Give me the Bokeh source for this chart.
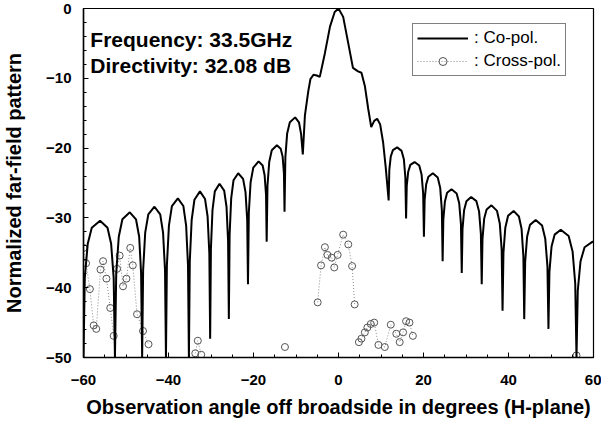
import numpy as np
from bokeh.plotting import figure
from bokeh.models import Range1d, Label, Legend, LegendItem, FixedTicker
from bokeh.embed import file_html
from bokeh.resources import INLINE

# Co-polar far-field pattern, H-plane (angle in degrees, level in dB)
copol_angle = [
    -60.0,
    -59.7, -59.0, -58.05, -56.1, -54.35, -53.5, -52.9, -52.6,
    -52.3, -51.7, -50.85, -49.1, -47.65, -46.9, -46.45, -46.2,
    -45.97, -45.48, -44.75, -43.3, -41.95, -41.28, -40.82, -40.6,
    -40.38, -39.9, -39.2, -37.8, -36.5, -35.85, -35.41, -35.2,
    -34.99, -34.55, -33.9, -32.6, -31.4, -30.8, -30.39, -30.2,
    -30.02, -29.65, -29.1, -28.0, -26.9, -26.35, -25.98, -25.8,
    -25.62, -25.25, -24.7, -23.6, -22.45, -21.88, -21.48, -21.3,
    -21.1, -20.68, -20.05, -18.8, -17.85, -17.38, -17.05, -16.9,
    -16.71, -16.3, -15.7, -14.5, -13.6, -13.15, -12.84, -12.7,
    -12.5, -12.08, -11.45, -10.2, -9.3, -8.8, -8.4,
    -7.9, -7.1, -6.6, -5.9, -5.1, -4.4, -3.2, -2.0, -0.9, 0.0,
    1.1, 2.3, 3.4, 4.6, 5.4, 6.2, 7.0, 7.7, 8.4, 9.1, 9.8, 10.5, 11.1, 11.8,
    11.96, 12.3, 12.8, 13.8, 14.85, 15.38, 15.73, 15.9,
    16.06, 16.4, 16.9, 17.9, 19.0, 19.55, 19.92, 20.1,
    20.27, 20.63, 21.15, 22.2, 23.35, 23.93, 24.32, 24.5,
    24.67, 25.03, 25.55, 26.6, 27.8, 28.4, 28.81, 29.0,
    29.18, 29.55, 30.1, 31.2, 32.45, 33.08, 33.5, 33.7,
    33.88, 34.28, 34.85, 36.0, 37.3, 37.95, 38.39, 38.6,
    38.81, 39.25, 39.9, 41.2, 42.45, 43.08, 43.5, 43.7,
    43.92, 44.38, 45.05, 46.4, 47.9, 48.65, 49.16, 49.4,
    49.63, 50.13, 50.85, 52.3, 54.15, 55.08, 55.7, 56.0,
    56.3, 56.95, 57.9, 59.8, 60.0,
]
copol_db = [
    -50.0,
    -38.6, -33.7, -31.4, -30.4, -31.4, -33.7, -38.6, -50.0,
    -37.9, -32.7, -30.2, -29.2, -30.2, -32.7, -37.9, -50.0,
    -37.5, -32.1, -29.5, -28.4, -29.5, -32.1, -37.5, -50.0,
    -36.8, -31.1, -28.3, -27.2, -28.3, -31.1, -36.8, -50.0,
    -36.2, -30.3, -27.4, -26.2, -27.3, -29.8, -35.1, -47.3,
    -34.4, -28.9, -26.2, -25.1, -26.1, -28.4, -33.3, -44.5,
    -32.4, -27.2, -24.6, -23.6, -24.4, -26.3, -30.3, -39.5,
    -29.3, -24.9, -22.8, -21.9, -22.5, -23.9, -26.7, -33.4,
    -25.4, -22.0, -20.3, -19.6, -20.1, -21.2, -23.6, -29.1,
    -21.3, -17.9, -16.3, -15.6, -16.3, -18.0, -20.9,
    -15.3, -11.8, -10.1, -9.5, -9.6, -9.8, -6.4, -2.6, -0.5, 0.0,
    -1.2, -5.0, -8.5, -9.0, -9.2, -11.1, -14.4, -17.0, -16.1, -15.8, -16.6, -19.2, -22.7, -27.5,
    -23.1, -21.2, -20.3, -19.9, -20.4, -21.6, -24.2, -30.1,
    -25.4, -23.4, -22.4, -22.0, -22.5, -23.8, -26.5, -32.7,
    -27.4, -25.2, -24.1, -23.6, -24.2, -25.7, -28.9, -36.2,
    -30.2, -27.7, -26.4, -25.9, -26.5, -27.9, -30.9, -37.9,
    -31.6, -28.9, -27.6, -27.0, -27.6, -29.1, -32.3, -39.5,
    -33.0, -30.1, -28.8, -28.2, -29.0, -30.8, -34.5, -43.3,
    -35.0, -31.4, -29.7, -29.0, -29.8, -31.6, -35.5, -44.5,
    -36.3, -32.7, -31.0, -30.3, -31.1, -33.0, -36.9, -45.9,
    -37.7, -34.1, -32.4, -31.7, -32.6, -34.8, -39.4, -50.0,
    -40.4, -36.2, -34.2, -33.4, -33.45,
]

# Cross-polar samples above the -50 dB floor, one list per visible stretch
cross_angle = [
    [-60.0, -59.4, -58.5, -57.6, -57.0, -56.0, -55.4, -54.6, -53.7, -52.9,
     -52.1, -51.5, -50.7, -49.9, -49.0, -48.4, -47.4, -46.0, -44.7],
    [-33.7, -33.1, -32.3],
    [-12.6],
    [-4.9, -4.1, -3.2, -2.6, -1.6, -1.0, -0.2, 1.1, 2.3, 3.2, 3.8],
    [4.8, 5.4, 6.2, 6.8, 7.6, 8.4, 9.4, 10.9, 12.3, 13.6, 14.4, 15.2, 15.9,
     16.7, 17.5],
    [56.0],
]
cross_db = [
    [-34.3, -36.5, -40.2, -45.4, -45.9, -37.4, -36.2, -38.7, -42.9, -46.9,
     -37.3, -35.4, -39.8, -38.7, -34.3, -36.8, -43.8, -46.2, -48.1],
    [-49.4, -47.6, -49.6],
    [-48.5],
    [-42.1, -36.8, -34.2, -35.3, -35.7, -37.1, -35.3, -32.4, -33.8, -36.9, -42.4],
    [-47.8, -47.3, -46.4, -45.7, -45.2, -45.0, -48.2, -48.5, -45.3, -46.6,
     -47.8, -46.4, -44.8, -45.0, -46.9],
    [-49.7],
]

x_ticks = [-60, -40, -20, 0, 20, 40, 60]
y_ticks = [0, -10, -20, -30, -40, -50]

FONT = "Liberation Sans"

p = figure(width=601, height=425, output_backend="svg", toolbar_location=None,
           x_range=Range1d(-60, 60), y_range=Range1d(-50, 0),
           min_border_left=81, min_border_right=8, min_border_top=8,
           min_border_bottom=68)
p.xgrid.visible = False
p.ygrid.visible = False
p.outline_line_color = "black"
p.outline_line_width = 1.2
p.background_fill_color = "white"

# cross-polar: dotted trace broken where it drops under the floor, open circles
line_x, line_y, pts_x, pts_y = [], [], [], []
for xs, ys in zip(cross_angle, cross_db):
    line_x += xs + [np.nan]
    line_y += ys + [np.nan]
    pts_x += xs
    pts_y += ys
cross_line = p.line(line_x, line_y, line_color="#8a8a8a", line_width=1,
                    line_dash="1 2")
cross_pts = p.scatter(pts_x, pts_y, marker="circle", size=7, fill_color=None,
                      line_color="#555555", line_width=1)

co_line = p.line(copol_angle, copol_db, line_color="black", line_width=2)

for ax, ticks in ((p.xaxis, x_ticks), (p.yaxis, y_ticks)):
    ax.axis_line_color = "black"
    ax.axis_line_width = 1.5
    ax.major_tick_in = 5
    ax.major_tick_out = 0
    ax.minor_tick_in = 3
    ax.minor_tick_out = 0
    ax.major_label_text_font = FONT
    ax.major_label_text_font_style = "bold"
    ax.major_label_text_font_size = "15px"
    ax.major_label_text_color = "black"
    ax.axis_label_text_font = FONT
    ax.axis_label_text_font_style = "bold"
    ax.axis_label_text_font_size = "20px"
    ax.axis_label_text_color = "black"

p.xaxis.ticker = FixedTicker(ticks=x_ticks, minor_ticks=list(range(-60, 61, 5)))
p.yaxis.ticker = FixedTicker(ticks=y_ticks, minor_ticks=list(range(-50, 1, 2)))
p.xaxis.major_label_standoff = 17
p.yaxis.major_label_standoff = 12

p.xaxis.axis_label = "Observation angle off broadside in degrees (H-plane)"
p.xaxis.axis_label_standoff = 8
p.yaxis.axis_label = "Normalized far-field pattern"
p.yaxis.axis_label_standoff = 18

p.add_layout(Label(x=-58.4, y=-4.5, text="Frequency: 33.5GHz",
                   text_baseline="middle", text_font=FONT, text_font_style="bold",
                   text_font_size="21px", text_color="black"))
p.add_layout(Label(x=-58.4, y=-8.1, text="Directivity: 32.08 dB",
                   text_baseline="middle", text_font=FONT, text_font_style="bold",
                   text_font_size="21px", text_color="black"))

legend = Legend(items=[LegendItem(label=": Co-pol.", renderers=[co_line]),
                       LegendItem(label=": Cross-pol.", renderers=[cross_line, cross_pts])],
                location=(329, 281))
legend.border_line_color = "black"
legend.border_line_width = 1.5
legend.background_fill_color = "white"
legend.background_fill_alpha = 1.0
legend.label_text_font = FONT
legend.label_text_font_size = "17px"
legend.label_text_color = "black"
legend.glyph_width = 51
legend.glyph_height = 20
legend.padding = 4
legend.spacing = 3
legend.label_standoff = 6
legend.margin = 0
p.add_layout(legend)

open("out.html", "w").write(file_html(p, INLINE))
